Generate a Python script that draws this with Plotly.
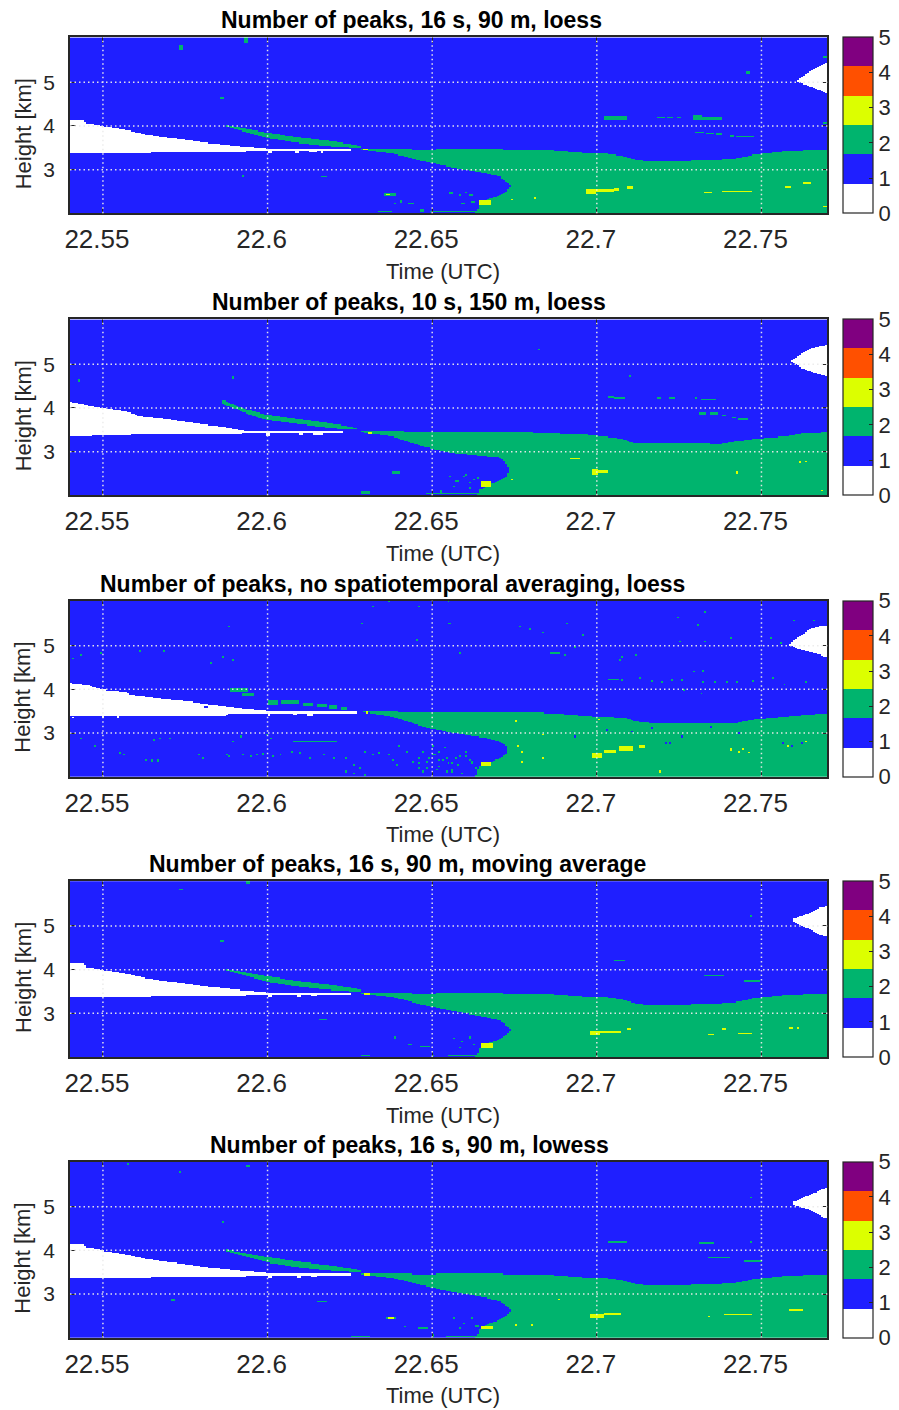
import numpy as np
import plotly.graph_objects as go

# ------------------------------------------------------------------ axes / ticks
TIME_RANGE = [22.54, 22.77]
HEIGHT_RANGE = [2.0, 6.03]
X_TICKS = [22.55, 22.60, 22.65, 22.70, 22.75]
X_TICK_TEXT = ["22.55", "22.6", "22.65", "22.7", "22.75"]
Y_TICKS = [3, 4, 5]
CB_TICKS = [0, 1, 2, 3, 4, 5]
TITLES = [
    "Number of peaks, 16 s, 90 m, loess",
    "Number of peaks, 10 s, 150 m, loess",
    "Number of peaks, no spatiotemporal averaging, loess",
    "Number of peaks, 16 s, 90 m, moving average",
    "Number of peaks, 16 s, 90 m, lowess",
]
X_LABEL = "Time (UTC)"
Y_LABEL = "Height [km]"
PEAK_COLORS = ["#FFFFFF", "#1F1FFF", "#00B46E", "#DCFF00", "#FF5000", "#800080"]

# retrieval grid (time in UTC hours, height in km)
TIME_STEP = 0.0006
HEIGHT_STEP = 0.025

# ------------------------------------------------------------------ 16 s / 90 m panels (1, 4, 5)
WHITE_TOP_T = [22.5400, 22.5441, 22.5450, 22.5472, 22.5502, 22.5573, 22.5623, 22.5674, 22.5724,
               22.5775, 22.5825, 22.5876, 22.5926, 22.5977, 22.6000, 22.6250]
WHITE_TOP_H = [4.16, 4.14, 4.06, 4.04, 3.99, 3.91, 3.82, 3.76, 3.71, 3.66, 3.61, 3.57, 3.53, 3.50, 3.48, 3.48]
WHITE_BOT_T = [22.5400, 22.5643, 22.5646, 22.5930, 22.5940, 22.6250]
WHITE_BOT_H = [3.37, 3.37, 3.40, 3.40, 3.42, 3.42]
BAND_T = [22.5876, 22.5946, 22.6000, 22.6098, 22.6200, 22.6279]
BAND_TOP = [4.02, 3.92, 3.85, 3.74, 3.65, 3.55]
BAND_BOT = [3.98, 3.84, 3.72, 3.61, 3.53, 3.50]
GREEN_TOP_T = [22.6280, 22.6462, 22.6663, 22.6865, 22.6966, 22.7027, 22.7088, 22.7118, 22.7168,
               22.7270, 22.7371, 22.7431, 22.7471, 22.7572, 22.7697]
GREEN_TOP_H = [3.48, 3.46, 3.47, 3.44, 3.38, 3.37, 3.30, 3.23, 3.19, 3.21, 3.23, 3.27, 3.34, 3.42, 3.46]
LOBE_H = [2.00, 2.09, 2.20, 2.31, 2.39, 2.47, 2.54, 2.62, 2.73, 2.85, 2.92, 3.00, 3.10, 3.20, 3.30,
          3.37, 3.46, 3.50]
LOBE_T = [22.6630, 22.6638, 22.6643, 22.6663, 22.6694, 22.6714, 22.6729, 22.6739, 22.6724, 22.6704,
          22.6660, 22.6600, 22.6530, 22.6470, 22.6420, 22.6380, 22.6280, 22.6280]
P1_CAP_H = [4.75, 4.79, 4.89, 4.97, 5.01, 5.08, 5.28, 5.40, 5.46]
P1_CAP_T = [22.7697, 22.7684, 22.7654, 22.7624, 22.7609, 22.7612, 22.7654, 22.7684, 22.7697]
P4_CAP_H = [4.76, 4.84, 4.99, 5.10, 5.16, 5.29, 5.41, 5.45]
P4_CAP_T = [22.7697, 22.7666, 22.7628, 22.7598, 22.7598, 22.7644, 22.7674, 22.7697]
P5_CAP_H = [4.74, 4.78, 4.93, 5.05, 5.11, 5.27, 5.38, 5.44]
P5_CAP_T = [22.7697, 22.7681, 22.7644, 22.7598, 22.7598, 22.7644, 22.7681, 22.7697]

# small features: (t0, t1, h0, h1, number of peaks)
P1_PATCHES = [
    (22.5732, 22.5740, 5.76, 5.86, 2), (22.5928, 22.5940, 5.90, 6.03, 2), (22.5858, 22.5868, 4.62, 4.68, 2),
    (22.6160, 22.6180, 2.83, 2.86, 2), (22.5922, 22.5928, 2.83, 2.87, 2), (22.6352, 22.6390, 2.40, 2.48, 2),
    (22.6363, 22.6373, 2.42, 2.46, 3), (22.6290, 22.6305, 3.44, 3.48, 3), (22.6383, 22.6389, 2.22, 2.26, 2),
    (22.6400, 22.6410, 2.26, 2.30, 2), (22.6425, 22.6445, 2.22, 2.26, 2), (22.6335, 22.6375, 2.02, 2.05, 2),
    (22.6465, 22.6475, 2.02, 2.10, 2), (22.6490, 22.6640, 2.02, 2.06, 2), (22.6555, 22.6561, 2.45, 2.49, 2),
    (22.6580, 22.6590, 2.40, 2.44, 2), (22.6600, 22.6606, 2.47, 2.51, 2), (22.6615, 22.6621, 2.40, 2.44, 2),
    (22.6590, 22.6600, 2.22, 2.26, 2), (22.6620, 22.6630, 2.24, 2.28, 2), (22.6640, 22.6676, 2.19, 2.29, 3),
    (22.6740, 22.6746, 2.29, 2.33, 3), (22.6810, 22.6816, 2.33, 2.37, 3), (22.6966, 22.6998, 2.44, 2.55, 3),
    (22.6998, 22.7050, 2.51, 2.55, 3), (22.7050, 22.7068, 2.52, 2.57, 3), (22.7092, 22.7108, 2.56, 2.62, 3),
    (22.7326, 22.7347, 2.47, 2.51, 3), (22.7380, 22.7471, 2.50, 2.53, 3), (22.7574, 22.7589, 2.58, 2.62, 3),
    (22.7629, 22.7650, 2.68, 2.73, 3), (22.7686, 22.7695, 2.14, 2.18, 3), (22.7023, 22.7092, 4.16, 4.23, 2),
    (22.7183, 22.7204, 4.17, 4.20, 2), (22.7214, 22.7229, 4.17, 4.20, 2), (22.7244, 22.7256, 4.17, 4.20, 2),
    (22.7289, 22.7320, 4.15, 4.24, 2), (22.7320, 22.7380, 4.16, 4.20, 2), (22.7298, 22.7325, 3.84, 3.87, 2),
    (22.7335, 22.7355, 3.83, 3.86, 2), (22.7360, 22.7380, 3.81, 3.84, 2), (22.7404, 22.7416, 3.76, 3.80, 2),
    (22.7425, 22.7476, 3.74, 3.77, 2), (22.7450, 22.7462, 5.20, 5.24, 2), (22.7686, 22.7695, 5.56, 5.60, 2),
    (22.7688, 22.7695, 4.06, 4.10, 2), (22.6000, 22.6010, 3.37, 3.45, 0), (22.6085, 22.6095, 3.38, 3.45, 0),
    (22.6125, 22.6150, 3.39, 3.45, 0), (22.6160, 22.6170, 3.38, 3.45, 0),
]
P4_PATCHES = [
    (22.5730, 22.5740, 5.82, 5.86, 2), (22.5934, 22.5944, 5.94, 6.03, 2), (22.5858, 22.5868, 4.63, 4.68, 2),
    (22.6155, 22.6178, 2.84, 2.87, 2), (22.6383, 22.6389, 2.43, 2.47, 2), (22.6429, 22.6435, 2.27, 2.31, 2),
    (22.6460, 22.6494, 2.23, 2.26, 2), (22.6565, 22.6571, 2.42, 2.46, 2), (22.6588, 22.6594, 2.34, 2.38, 2),
    (22.6610, 22.6616, 2.43, 2.47, 2), (22.6626, 22.6632, 2.27, 2.31, 2), (22.6580, 22.6586, 2.19, 2.23, 2),
    (22.6545, 22.6636, 2.02, 2.05, 2), (22.6280, 22.6310, 2.02, 2.04, 2), (22.6497, 22.6503, 2.02, 2.05, 2),
    (22.6651, 22.6681, 2.21, 2.32, 3), (22.6296, 22.6310, 3.43, 3.47, 3), (22.6977, 22.7007, 2.50, 2.59, 3),
    (22.7007, 22.7075, 2.55, 2.61, 3), (22.7095, 22.7101, 2.63, 2.67, 3), (22.7341, 22.7356, 2.49, 2.53, 3),
    (22.7431, 22.7469, 2.53, 2.56, 3), (22.7383, 22.7389, 2.63, 2.67, 3), (22.7587, 22.7593, 2.65, 2.69, 3),
    (22.7610, 22.7616, 2.65, 2.69, 3), (22.7053, 22.7083, 4.19, 4.23, 2), (22.7325, 22.7386, 3.84, 3.88, 2),
    (22.7447, 22.7492, 3.73, 3.77, 2), (22.7466, 22.7472, 5.20, 5.24, 2), (22.6000, 22.6010, 3.37, 3.45, 0),
    (22.6090, 22.6100, 3.38, 3.45, 0), (22.6130, 22.6150, 3.39, 3.45, 0),
]
P5_PATCHES = [
    (22.5573, 22.5579, 5.95, 6.00, 2), (22.5732, 22.5738, 5.78, 5.82, 2), (22.5934, 22.5944, 5.91, 5.96, 2),
    (22.5860, 22.5866, 4.63, 4.67, 2), (22.6152, 22.6182, 2.82, 2.85, 2), (22.5709, 22.5715, 2.85, 2.89, 2),
    (22.7030, 22.7091, 4.18, 4.23, 2), (22.7310, 22.7356, 4.15, 4.19, 2), (22.7466, 22.7472, 4.18, 4.22, 2),
    (22.7341, 22.7401, 3.82, 3.86, 2), (22.7447, 22.7500, 3.73, 3.77, 2), (22.7466, 22.7472, 5.19, 5.23, 2),
    (22.6497, 22.6503, 2.03, 2.09, 2), (22.6250, 22.6310, 2.02, 2.04, 2), (22.6538, 22.6636, 2.02, 2.05, 2),
    (22.6565, 22.6571, 2.43, 2.47, 2), (22.6595, 22.6601, 2.32, 2.36, 2), (22.6618, 22.6624, 2.43, 2.47, 2),
    (22.6580, 22.6586, 2.21, 2.25, 2), (22.6633, 22.6639, 2.25, 2.29, 2), (22.6413, 22.6419, 2.24, 2.28, 2),
    (22.6454, 22.6484, 2.21, 2.24, 2), (22.6360, 22.6390, 2.42, 2.48, 2), (22.6365, 22.6383, 2.43, 2.47, 3),
    (22.6651, 22.6681, 2.19, 2.27, 3), (22.6296, 22.6310, 3.43, 3.47, 3), (22.6977, 22.7022, 2.44, 2.55, 3),
    (22.7022, 22.7075, 2.53, 2.57, 3), (22.6883, 22.6889, 2.87, 2.91, 3), (22.7338, 22.7344, 2.47, 2.51, 3),
    (22.7386, 22.7469, 2.52, 2.55, 3), (22.7583, 22.7628, 2.62, 2.66, 3), (22.6750, 22.6756, 2.28, 2.32, 3),
    (22.6800, 22.6806, 2.28, 2.32, 3), (22.6000, 22.6010, 3.37, 3.45, 0), (22.6090, 22.6100, 3.38, 3.45, 0),
    (22.6130, 22.6150, 3.39, 3.45, 0),
]

# ------------------------------------------------------------------ 10 s / 150 m panel (2)
P2_WHITE_TOP_T = [22.5400, 22.5452, 22.5497, 22.5573, 22.5613, 22.5674, 22.5775, 22.5876, 22.5921, 22.5935, 22.6230]
P2_WHITE_TOP_H = [4.15, 4.07, 4.00, 3.92, 3.82, 3.77, 3.66, 3.56, 3.50, 3.47, 3.47]
P2_WHITE_BOT_T = [22.5400, 22.5462, 22.5465, 22.5583, 22.5586, 22.5921, 22.5925, 22.6230]
P2_WHITE_BOT_H = [3.35, 3.35, 3.37, 3.37, 3.41, 3.41, 3.42, 3.42]
P2_BAND_T = [22.5861, 22.5937, 22.5997, 22.6098, 22.6199, 22.6270]
P2_BAND_TOP = [4.20, 3.96, 3.85, 3.75, 3.64, 3.55]
P2_BAND_BOT = [4.11, 3.87, 3.73, 3.63, 3.54, 3.52]
P2_GREEN_TOP_T = [22.6280, 22.6462, 22.6765, 22.6966, 22.7067, 22.7118, 22.7270, 22.7371, 22.7421,
                  22.7471, 22.7572, 22.7633, 22.7697]
P2_GREEN_TOP_H = [3.47, 3.46, 3.45, 3.39, 3.31, 3.20, 3.21, 3.18, 3.24, 3.29, 3.35, 3.43, 3.44]
P2_LOBE_H = [2.00, 2.13, 2.21, 2.32, 2.44, 2.59, 2.78, 2.86, 2.89, 2.97, 3.12, 3.25, 3.35, 3.45, 3.50]
P2_LOBE_T = [22.6636, 22.6643, 22.6663, 22.6699, 22.6724, 22.6734, 22.6719, 22.6704, 22.6663, 22.6562,
             22.6470, 22.6420, 22.6380, 22.6280, 22.6280]
P2_CAP_H = [4.72, 4.80, 4.91, 5.06, 5.10, 5.25, 5.40, 5.44]
P2_CAP_T = [22.7697, 22.7663, 22.7623, 22.7593, 22.7593, 22.7623, 22.7663, 22.7697]
P2_PATCHES = [
    (22.5422, 22.5430, 4.61, 4.68, 2), (22.5893, 22.5899, 4.68, 4.72, 2), (22.6381, 22.6401, 2.51, 2.55, 2),
    (22.6280, 22.6310, 2.02, 2.10, 2), (22.6482, 22.6644, 2.02, 2.06, 2), (22.6520, 22.6530, 2.06, 2.12, 2),
    (22.6553, 22.6559, 2.42, 2.46, 2), (22.6573, 22.6579, 2.30, 2.34, 2), (22.6593, 22.6599, 2.42, 2.46, 2),
    (22.6613, 22.6619, 2.27, 2.31, 2), (22.6634, 22.6640, 2.38, 2.42, 2), (22.6563, 22.6569, 2.19, 2.23, 2),
    (22.6602, 22.6608, 2.45, 2.49, 2), (22.6623, 22.6629, 2.34, 2.38, 2), (22.6610, 22.6620, 2.15, 2.19, 2),
    (22.6648, 22.6678, 2.19, 2.32, 3), (22.6736, 22.6742, 2.34, 2.38, 3), (22.6822, 22.6828, 5.32, 5.36, 2),
    (22.7099, 22.7105, 4.71, 4.75, 2), (22.7032, 22.7047, 4.23, 4.27, 2), (22.7052, 22.7087, 4.19, 4.26, 2),
    (22.7183, 22.7193, 4.21, 4.25, 2), (22.7219, 22.7234, 4.21, 4.25, 2), (22.7294, 22.7304, 4.21, 4.25, 2),
    (22.7314, 22.7360, 4.17, 4.21, 2), (22.7309, 22.7330, 3.86, 3.90, 2), (22.7345, 22.7365, 3.86, 3.90, 2),
    (22.7380, 22.7390, 3.82, 3.86, 2), (22.7410, 22.7420, 3.77, 3.81, 2), (22.7431, 22.7456, 3.73, 3.77, 2),
    (22.6921, 22.6946, 2.83, 2.86, 3), (22.6986, 22.7001, 2.48, 2.59, 3), (22.7001, 22.7032, 2.53, 2.57, 3),
    (22.7423, 22.7429, 2.51, 2.55, 3), (22.7612, 22.7618, 2.76, 2.80, 3), (22.7632, 22.7638, 2.77, 2.81, 3),
    (22.7680, 22.7686, 2.09, 2.13, 3), (22.6305, 22.6315, 3.41, 3.45, 3), (22.5997, 22.6007, 3.35, 3.45, 0),
    (22.6098, 22.6110, 3.37, 3.45, 0), (22.6140, 22.6169, 3.38, 3.45, 0),
]

# ------------------------------------------------------------------ no averaging panel (3)
P3_WHITE_TOP_T = [22.5400, 22.5452, 22.5482, 22.5512, 22.5573, 22.5583, 22.5674, 22.5775, 22.5876,
                  22.5926, 22.6000, 22.6270]
P3_WHITE_TOP_H = [4.14, 4.10, 4.03, 3.98, 3.95, 3.88, 3.79, 3.71, 3.61, 3.56, 3.51, 3.50]
P3_WHITE_BOT_T = [22.5400, 22.5876, 22.5880, 22.6000, 22.6005, 22.6270]
P3_WHITE_BOT_H = [3.41, 3.41, 3.45, 3.45, 3.46, 3.46]
P3_BAND_T = [22.5886, 22.5888]
P3_BAND_TOP = [4.03, 4.03]
P3_BAND_BOT = [3.95, 3.95]
P3_GREEN_TOP_T = [22.6280, 22.6462, 22.6663, 22.6865, 22.6997, 22.7088, 22.7118, 22.7168, 22.7320,
                  22.7421, 22.7471, 22.7572, 22.7697]
P3_GREEN_TOP_H = [3.50, 3.48, 3.48, 3.46, 3.38, 3.35, 3.27, 3.23, 3.23, 3.23, 3.31, 3.38, 3.46]
P3_LOBE_H = [2.00, 2.05, 2.24, 2.32, 2.39, 2.47, 2.58, 2.70, 2.81, 2.89, 2.96, 3.04, 3.15, 3.23, 3.38,
             3.50, 3.55]
P3_LOBE_T = [22.6630, 22.6633, 22.6643, 22.6663, 22.6694, 22.6714, 22.6729, 22.6724, 22.6704, 22.6663,
             22.6600, 22.6540, 22.6470, 22.6440, 22.6380, 22.6280, 22.6280]
P3_CAP_H = [4.75, 4.83, 4.90, 5.02, 5.21, 5.40, 5.44, 5.46]
P3_CAP_T = [22.7690, 22.7663, 22.7623, 22.7583, 22.7613, 22.7653, 22.7673, 22.7697]
P3_PATCHES = [
    (22.5886, 22.5937, 3.95, 4.03, 2), (22.5921, 22.5957, 3.84, 3.92, 2), (22.6002, 22.6030, 3.66, 3.74, 2),
    (22.6045, 22.6098, 3.68, 3.74, 2), (22.6108, 22.6140, 3.62, 3.70, 2), (22.6150, 22.6179, 3.59, 3.68, 2),
    (22.6185, 22.6210, 3.56, 3.64, 2), (22.6220, 22.6240, 3.53, 3.60, 2), (22.6078, 22.6209, 2.79, 2.83, 2),
    (22.6860, 22.6885, 4.81, 4.85, 2), (22.7032, 22.7067, 4.22, 4.26, 2), (22.6986, 22.7011, 2.43, 2.55, 3),
    (22.7022, 22.7057, 2.55, 2.62, 3), (22.7067, 22.7107, 2.60, 2.70, 3), (22.7128, 22.7148, 2.66, 2.72, 3),
    (22.6648, 22.6678, 2.24, 2.35, 3), (22.5808, 22.5818, 3.58, 3.62, 1), (22.5410, 22.5414, 3.33, 3.41, 0),
    (22.5495, 22.5500, 3.35, 3.41, 0), (22.5546, 22.5551, 3.35, 3.41, 0), (22.6000, 22.6006, 3.40, 3.47, 0),
    (22.6080, 22.6090, 3.42, 3.47, 0), (22.6120, 22.6140, 3.41, 3.47, 0), (22.6300, 22.6308, 3.46, 3.50, 3),
]
# single-cell speckles: (t, h, number of peaks)
P3_SPECKS = [
    (22.5406, 4.71, 2), (22.5432, 4.79, 2), (22.5492, 4.83, 2), (22.5613, 4.88, 2), (22.5684, 4.87, 2),
    (22.5866, 4.75, 2), (22.5881, 5.44, 2), (22.5896, 4.68, 2), (22.5831, 4.60, 2), (22.6285, 5.51, 2),
    (22.6320, 5.89, 2), (22.6366, 6.01, 2), (22.6452, 5.13, 2), (22.6462, 5.89, 2), (22.6548, 6.01, 2),
    (22.6553, 5.51, 2), (22.6588, 4.83, 2), (22.5477, 2.70, 2), (22.5432, 2.89, 2), (22.5921, 2.92, 2),
    (22.5997, 2.96, 2), (22.6007, 2.89, 2), (22.5553, 2.55, 2), (22.5563, 2.51, 2), (22.5629, 2.39, 2),
    (22.5649, 2.37, 2), (22.5664, 2.38, 2), (22.5654, 2.85, 2), (22.5674, 2.89, 2), (22.5704, 2.89, 2),
    (22.5795, 2.51, 2), (22.5805, 2.43, 2), (22.5876, 2.51, 2), (22.5881, 2.47, 2), (22.5896, 2.81, 2),
    (22.5927, 2.51, 2), (22.5952, 2.47, 2), (22.5967, 2.51, 2), (22.5987, 2.52, 2), (22.6017, 2.47, 2),
    (22.6038, 2.51, 2), (22.6078, 2.58, 2), (22.6098, 2.55, 2), (22.6129, 2.43, 2), (22.6169, 2.51, 2),
    (22.6199, 2.43, 2), (22.6240, 2.43, 2), (22.6260, 2.28, 2), (22.6280, 2.20, 2), (22.6300, 2.58, 2),
    (22.6320, 2.51, 2), (22.6341, 2.55, 2), (22.6371, 2.51, 2), (22.6381, 2.39, 2), (22.6391, 2.28, 2),
    (22.6401, 2.70, 2), (22.6421, 2.58, 2), (22.6442, 2.35, 2), (22.6457, 2.43, 2), (22.6462, 2.20, 2),
    (22.6482, 2.35, 2), (22.6502, 2.51, 2), (22.6522, 2.39, 2), (22.6543, 2.43, 2), (22.6563, 2.32, 2),
    (22.6583, 2.47, 2), (22.6603, 2.58, 2), (22.6623, 2.35, 2), (22.6240, 2.13, 2), (22.6260, 2.09, 2),
    (22.6300, 2.05, 2), (22.6472, 2.13, 2), (22.6512, 2.16, 2), (22.6563, 2.13, 2), (22.6633, 2.20, 2),
    (22.6547, 6.01, 2), (22.6552, 5.51, 2), (22.6764, 5.44, 2), (22.6794, 5.38, 2), (22.6835, 5.31, 2),
    (22.6910, 5.51, 2), (22.6956, 5.25, 2), (22.6587, 4.83, 2), (22.6905, 4.79, 2), (22.6931, 4.98, 2),
    (22.7244, 5.64, 2), (22.7330, 5.78, 2), (22.7304, 5.48, 2), (22.7249, 5.09, 2), (22.7330, 5.09, 2),
    (22.7410, 5.17, 2), (22.7077, 4.75, 2), (22.7118, 4.79, 2), (22.7072, 4.68, 2), (22.7077, 4.22, 2),
    (22.7128, 4.26, 2), (22.7168, 4.20, 2), (22.7198, 4.17, 2), (22.7229, 4.22, 2), (22.7259, 4.22, 2),
    (22.7294, 4.41, 2), (22.7325, 4.43, 2), (22.7325, 4.18, 2), (22.7360, 4.17, 2), (22.7395, 4.17, 2),
    (22.7426, 4.18, 2), (22.7471, 4.20, 2), (22.7532, 4.26, 2), (22.7572, 4.11, 2), (22.7633, 4.18, 2),
    (22.7264, 3.99, 2), (22.7320, 3.91, 2), (22.7597, 5.59, 2), (22.7658, 5.59, 2), (22.7527, 5.17, 2),
    (22.7557, 5.06, 2), (22.6754, 3.27, 3), (22.6835, 2.96, 3), (22.6759, 2.70, 3), (22.6774, 2.58, 3),
    (22.7410, 2.62, 3), (22.7430, 2.58, 3), (22.7446, 2.64, 3), (22.7461, 2.56, 3), (22.7582, 2.70, 3),
    (22.7633, 2.81, 3), (22.6774, 2.35, 3), (22.6835, 2.43, 3), (22.7188, 2.13, 3), (22.7006, 3.31, 3),
    (22.6936, 2.93, 1), (22.7027, 3.08, 1), (22.7107, 3.04, 1), (22.7168, 3.12, 1), (22.7208, 2.77, 1),
    (22.7218, 2.77, 1), (22.7259, 2.93, 1), (22.7350, 3.15, 1), (22.7431, 3.00, 1), (22.7562, 2.77, 1),
    (22.7592, 2.70, 1), (22.7623, 2.77, 1), (22.6471, 2.58, 2), (22.6491, 2.43, 2), (22.6506, 2.51, 2),
    (22.6522, 2.58, 2), (22.6532, 2.39, 2), (22.6552, 2.32, 2), (22.6572, 2.43, 2), (22.6582, 2.28, 2),
    (22.6602, 2.47, 2), (22.6613, 2.39, 2), (22.6623, 2.32, 2), (22.6481, 2.20, 2), (22.6522, 2.24, 2),
    (22.6542, 2.13, 2), (22.6562, 2.16, 2), (22.6592, 2.09, 2), (22.6461, 2.32, 2), (22.6501, 2.70, 2),
    (22.6537, 2.66, 2),
]

# ------------------------------------------------------------------ build the cells
TX = np.round(np.arange(TIME_RANGE[0] + TIME_STEP / 2, TIME_RANGE[1], TIME_STEP), 5)
HY = np.round(np.arange(HEIGHT_RANGE[0] + HEIGHT_STEP / 2, HEIGHT_RANGE[1], HEIGHT_STEP), 5)


def build_panel(wt_t, wt_h, wb_t, wb_h, b_t, b_top, b_bot, g_t, g_h, l_h, l_t, c_h, c_t, patches, specks):
    T, H = np.meshgrid(TX, HY)
    z = np.ones(T.shape, dtype=int)
    nan = np.nan
    wt = np.interp(TX, wt_t, wt_h, left=nan, right=nan)
    wb = np.interp(TX, wb_t, wb_h, left=nan, right=nan)
    z[(H <= wt) & (H >= wb)] = 0
    bt = np.interp(TX, b_t, b_top, left=nan, right=nan)
    bb = np.interp(TX, b_t, b_bot, left=nan, right=nan)
    z[(H <= bt) & (H >= bb)] = 2
    gt = np.interp(TX, g_t, g_h, left=nan, right=nan)
    edge = np.interp(HY, l_h, l_t)[:, None]
    z[(H <= gt) & (T >= edge)] = 2
    ce = np.interp(HY, c_h, c_t, left=nan, right=nan)[:, None]
    z[T >= ce] = 0
    for t0, t1, h0, h1, v in patches:
        m = (T >= t0) & (T <= t1) & (H >= h0) & (H <= h1)
        if m.any():
            z[m] = v
        else:
            i = int(np.argmin(np.abs(HY - (h0 + h1) / 2)))
            j = int(np.argmin(np.abs(TX - (t0 + t1) / 2)))
            z[i, j] = v
    for t, h, v in specks:
        j = int(np.argmin(np.abs(TX - t)))
        rows = np.where(np.abs(HY - h) <= 0.02)[0]
        if len(rows) == 0:
            rows = [int(np.argmin(np.abs(HY - h)))]
        z[rows, j] = v
    return z


PANELS = [
    build_panel(WHITE_TOP_T, WHITE_TOP_H, WHITE_BOT_T, WHITE_BOT_H, BAND_T, BAND_TOP, BAND_BOT,
                GREEN_TOP_T, GREEN_TOP_H, LOBE_H, LOBE_T, P1_CAP_H, P1_CAP_T, P1_PATCHES, []),
    build_panel(P2_WHITE_TOP_T, P2_WHITE_TOP_H, P2_WHITE_BOT_T, P2_WHITE_BOT_H, P2_BAND_T, P2_BAND_TOP,
                P2_BAND_BOT, P2_GREEN_TOP_T, P2_GREEN_TOP_H, P2_LOBE_H, P2_LOBE_T, P2_CAP_H, P2_CAP_T,
                P2_PATCHES, []),
    build_panel(P3_WHITE_TOP_T, P3_WHITE_TOP_H, P3_WHITE_BOT_T, P3_WHITE_BOT_H, P3_BAND_T, P3_BAND_TOP,
                P3_BAND_BOT, P3_GREEN_TOP_T, P3_GREEN_TOP_H, P3_LOBE_H, P3_LOBE_T, P3_CAP_H, P3_CAP_T,
                P3_PATCHES, P3_SPECKS),
    build_panel(WHITE_TOP_T, WHITE_TOP_H, WHITE_BOT_T, WHITE_BOT_H, BAND_T, BAND_TOP, BAND_BOT,
                GREEN_TOP_T, GREEN_TOP_H, LOBE_H, LOBE_T, P4_CAP_H, P4_CAP_T, P4_PATCHES, []),
    build_panel(WHITE_TOP_T, WHITE_TOP_H, WHITE_BOT_T, WHITE_BOT_H, BAND_T, BAND_TOP, BAND_BOT,
                GREEN_TOP_T, GREEN_TOP_H, LOBE_H, LOBE_T, P5_CAP_H, P5_CAP_T, P5_PATCHES, []),
]

# ------------------------------------------------------------------ figure
W, Hpx = 899, 1410
FONT = "Liberation Sans, Arial, Helvetica, sans-serif"
INK = "#262626"
PLOT_LEFT, PLOT_RIGHT = 70.0, 827.3
PLOT_H = 176.0
PANEL_TOPS = [37.3, 319.3, 600.7, 881.0, 1161.7]
TITLE_CX = [411, 409, 392, 397, 409]

n = len(PEAK_COLORS)
colorscale = []
for k, c in enumerate(PEAK_COLORS):
    colorscale.append([k / n, c])
    colorscale.append([(k + 1) / n, c])

fig = go.Figure()
layout = dict(width=W, height=Hpx, margin=dict(l=0, r=0, t=0, b=0, autoexpand=False),
              paper_bgcolor="white", plot_bgcolor="white", showlegend=False,
              font=dict(family=FONT, color=INK))
annotations = []
shapes = []

for i, (z, top) in enumerate(zip(PANELS, PANEL_TOPS)):
    k = i + 1
    xs = "" if k == 1 else str(k)
    y0 = 1 - (top + PLOT_H) / Hpx
    y1 = 1 - top / Hpx
    fig.add_trace(go.Heatmap(
        x=TX, y=HY, z=z, zmin=0, zmax=5, colorscale=colorscale, hoverinfo="skip",
        xaxis="x" + xs, yaxis="y" + xs,
        colorbar=dict(x=843 / W, xanchor="left", y=(y0 + y1) / 2, yanchor="middle",
                      len=PLOT_H, lenmode="pixels", thickness=30, thicknessmode="pixels",
                      tickvals=CB_TICKS, ticks="inside", ticklen=4, tickcolor=INK,
                      tickprefix="\u00a0\u2009",
                      outlinecolor=INK, outlinewidth=1.2, xpad=0, ypad=0,
                      tickfont=dict(size=22, color=INK, family=FONT)),
    ))
    layout["xaxis" + xs] = dict(
        domain=[PLOT_LEFT / W, PLOT_RIGHT / W], range=TIME_RANGE, anchor="y" + xs,
        tickvals=X_TICKS, ticktext=X_TICK_TEXT, ticks="inside", ticklen=6, tickwidth=1.2,
        tickcolor=INK, showline=True, linecolor=INK, linewidth=1.5, mirror="ticks",
        showgrid=False, zeroline=False, tickfont=dict(size=26, color=INK, family=FONT),
        ticklabelstandoff=2, ticklabelshift=-6)
    layout["yaxis" + xs] = dict(
        domain=[y0, y1], range=HEIGHT_RANGE, anchor="x" + xs,
        tickvals=Y_TICKS, ticks="inside", ticklen=6, tickwidth=1.2,
        tickcolor=INK, showline=True, linecolor=INK, linewidth=1.5, mirror="ticks",
        showgrid=False, zeroline=False, tickfont=dict(size=21, color=INK, family=FONT),
        ticklabelstandoff=9)
    for xv in X_TICKS:
        shapes.append(dict(type="line", xref="x" + xs, yref="y" + xs + " domain", x0=xv, x1=xv, y0=0, y1=1,
                           line=dict(color="rgba(235,235,235,0.95)", width=1.5, dash="1.5px,3px")))
    for yv in Y_TICKS:
        shapes.append(dict(type="line", xref="x" + xs + " domain", yref="y" + xs, x0=0, x1=1, y0=yv, y1=yv,
                           line=dict(color="rgba(235,235,235,0.95)", width=1.5, dash="1.5px,3px")))
    annotations.append(dict(text="<b>" + TITLES[i] + "</b>", xref="paper", yref="paper",
                            x=TITLE_CX[i] / W, y=1 - (top - 17) / Hpx, xanchor="center", yanchor="middle",
                            showarrow=False, font=dict(size=23, color="black", family=FONT)))
    annotations.append(dict(text=X_LABEL, xref="paper", yref="paper",
                            x=443 / W, y=1 - (top + 234) / Hpx, xanchor="center", yanchor="middle",
                            showarrow=False, font=dict(size=22, color=INK, family=FONT)))
    annotations.append(dict(text=Y_LABEL, xref="paper", yref="paper", textangle=-90,
                            x=23 / W, y=1 - (top + 97) / Hpx, xanchor="center", yanchor="middle",
                            showarrow=False, font=dict(size=22, color=INK, family=FONT)))

layout["annotations"] = annotations
layout["shapes"] = shapes
fig.update_layout(**layout)
fig.write_html("out.html", config={"displayModeBar": False},
               post_script="document.body.style.margin='0px';document.body.style.overflow='hidden';")
